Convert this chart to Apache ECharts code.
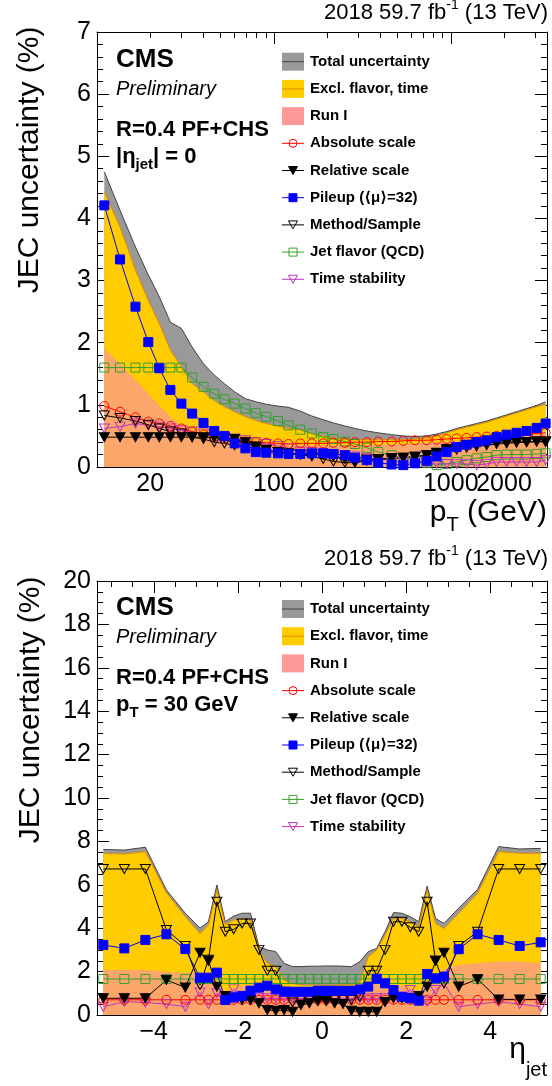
<!DOCTYPE html>
<html>
<head>
<meta charset="utf-8">
<script src="https://cdn.jsdelivr.net/npm/echarts@6/dist/echarts.min.js"></script>
<style>
  html, body { margin: 0; padding: 0; background: #fff; }
  #chart { width: 552px; height: 1086px; }
</style>
</head>
<body>
<div id="chart"></div>
<script>
// ---- top panel: uncertainty vs pT at eta = 0 ----
const ptBins = [11, 13.5, 16.5, 19.5, 22.5, 26, 30, 34.5, 40, 46, 52.5, 60, 69, 79, 90.5, 105.5, 121,
  141, 164, 190, 217, 252, 287, 335, 389, 463, 539, 628, 731, 832, 948, 1080, 1230, 1400, 1595, 1816,
  2069, 2356, 2683, 3059, 3437];
const ptTotal = [4.75, 4.13, 3.54, 3.09, 2.74, 2.33, 2.23, 1.93, 1.66, 1.48, 1.34, 1.21, 1.10, 1.05, 1.01, 0.98, 0.96,
  0.90, 0.82, 0.76, 0.71, 0.66, 0.62, 0.58, 0.55, 0.52, 0.50, 0.49, 0.50, 0.53, 0.57, 0.62, 0.66, 0.70, 0.74, 0.79,
  0.84, 0.89, 0.94, 0.99, 1.05];
const ptExcl = [4.43, 3.86, 3.17, 2.68, 2.31, 1.88, 1.61, 1.34, 1.21, 1.07, 0.97, 0.89, 0.81, 0.75, 0.70, 0.66, 0.62,
  0.60, 0.54, 0.50, 0.47, 0.45, 0.44, 0.44, 0.44, 0.44, 0.44, 0.45, 0.47, 0.50, 0.55, 0.60, 0.64, 0.68, 0.72, 0.77,
  0.82, 0.87, 0.92, 0.97, 1.01];
const ptRun1 = [1.91, 1.66, 1.40, 1.18, 0.99, 0.81, 0.66, 0.57, 0.51, 0.46, 0.43, 0.41, 0.39, 0.38, 0.37, 0.36, 0.35,
  0.35, 0.35, 0.35, 0.35, 0.35, 0.35, 0.35, 0.36, 0.36, 0.37, 0.38, 0.39, 0.40, 0.41, 0.42, 0.43, 0.44, 0.45, 0.46,
  0.47, 0.48, 0.50, 0.52, 0.54];
const ptAbsolute = [0.98, 0.89, 0.80, 0.73, 0.70, 0.66, 0.62, 0.57, 0.52, 0.48, 0.46, 0.43, 0.41, 0.40, 0.39, 0.38, 0.37,
  0.38, 0.38, 0.38, 0.39, 0.39, 0.40, 0.40, 0.41, 0.41, 0.42, 0.43, 0.43, 0.44, 0.45, 0.46, 0.47, 0.48, 0.49, 0.50,
  0.51, 0.52, 0.53, 0.54, 0.55];
const ptRelative = [0.48, 0.48, 0.48, 0.48, 0.48, 0.48, 0.48, 0.48, 0.48, 0.47, 0.47, 0.45, 0.40, 0.33, 0.28, 0.24, 0.21,
  0.20, 0.20, 0.20, 0.17, 0.13, 0.08, 0.12, 0.12, 0.14, 0.15, 0.17, 0.19, 0.23, 0.29, 0.32, 0.35, 0.36, 0.38, 0.40,
  0.40, 0.41, 0.40, 0.41, 0.40];
const ptPileup = [4.21, 3.34, 2.58, 2.01, 1.59, 1.24, 1.02, 0.86, 0.71, 0.58, 0.50, 0.38, 0.30, 0.24, 0.23, 0.22, 0.21,
  0.21, 0.22, 0.22, 0.21, 0.19, 0.15, 0.11, 0.07, 0.04, 0.03, 0.06, 0.10, 0.17, 0.24, 0.32, 0.36, 0.40, 0.43, 0.48,
  0.52, 0.55, 0.58, 0.63, 0.70];
const ptMethod = [0.83, 0.79, 0.74, 0.68, 0.62, 0.57, 0.54, 0.48, 0.45, 0.40, 0.38, 0.35, 0.33, 0.30, 0.27, 0.24, 0.22,
  0.20, 0.17, 0.13, 0.09, 0.07, 0.07, 0.10, 0.13, 0.14, 0.15, 0.16, 0.19, 0.22, 0.26, 0.28, 0.31, 0.33, 0.35, 0.37,
  0.38, 0.39, 0.40, 0.41, 0.42];
const ptFlavor = [1.60, 1.60, 1.60, 1.60, 1.60, 1.60, 1.60, 1.44, 1.29, 1.18, 1.09, 1.02, 0.94, 0.87, 0.81, 0.74, 0.67,
  0.60, 0.54, 0.48, 0.45, 0.41, 0.37, 0.31, 0.24, 0.19, 0.14, 0.11, 0.07, 0.03, 0.05, 0.08, 0.11, 0.14, 0.16, 0.19,
  0.20, 0.20, 0.20, 0.21, 0.22];
const ptTime = [0.62, 0.65, 0.70, 0.67, 0.65, 0.62, 0.59, 0.57, 0.54, 0.51, 0.48, 0.46, 0.43, 0.40, 0.37, 0.34, 0.30,
  0.25, 0.24, 0.22, 0.21, 0.19, 0.17, 0.15, 0.13, 0.11, 0.08, 0.07, 0.06, 0.05, 0.05, 0.05, 0.05, 0.03, 0.05, 0.08,
  0.08, 0.08, 0.08, 0.08, 0.11];

const ptMajorTicks = [100, 1000];
const ptMajorLabels = [100, 1000];
const ptMinorTicks = [20, 30, 40, 50, 60, 70, 80, 90, 200, 300, 400, 500, 600, 700, 800, 900, 2000, 3000];
const ptMinorLabels = [20, 200, 2000];

// ---- bottom panel: uncertainty vs eta at pT = 30 GeV ----
const etaBins = [-5.2, -4.7, -4.2, -3.7, -3.25, -2.9, -2.7, -2.5, -2.3, -2.1, -1.9, -1.7, -1.5, -1.3, -1.1, -0.9, -0.7,
  -0.5, -0.3, -0.1, 0.1, 0.3, 0.5, 0.7, 0.9, 1.1, 1.3, 1.5, 1.7, 1.9, 2.1, 2.3, 2.5, 2.7, 2.9, 3.25, 3.7, 4.2, 4.7, 5.2];
const etaTotal = [7.63, 7.60, 7.73, 5.76, 4.69, 4.00, 4.30, 5.99, 4.30, 4.56, 4.69, 4.69, 3.15, 3.00, 2.92, 2.38, 2.23,
  2.23, 2.25, 2.25, 2.26, 2.26, 2.25, 2.23, 2.46, 2.92, 3.07, 3.84, 4.72, 4.69, 4.53, 4.30, 5.94, 4.45, 4.22, 4.92,
  5.79, 7.76, 7.65, 7.68];
const etaExcl = [7.45, 7.42, 7.53, 5.64, 4.53, 3.76, 4.15, 5.76, 4.15, 4.38, 4.41, 4.38, 3.00, 2.38, 2.23, 1.61, 1.46,
  1.38, 1.38, 1.38, 1.38, 1.38, 1.40, 1.40, 1.50, 2.69, 3.00, 3.69, 4.45, 4.45, 4.30, 4.07, 5.76, 4.22, 3.99, 4.69,
  5.61, 7.53, 7.45, 7.45];
const etaRun1 = [2.07, 2.07, 2.07, 1.99, 1.94, 1.99, 1.60, 1.30, 1.10, 1.25, 1.35, 1.40, 1.45, 1.45, 1.40, 1.35, 1.30,
  1.30, 1.30, 1.30, 1.30, 1.30, 1.30, 1.30, 1.35, 1.40, 1.45, 1.45, 1.40, 1.35, 1.25, 1.10, 1.30, 1.70, 2.10, 2.30,
  2.38, 2.46, 2.46, 2.38];
const etaAbsolute = [0.70, 0.70, 0.70, 0.70, 0.70, 0.70, 0.70, 0.70, 0.70, 0.70, 0.70, 0.70, 0.70, 0.70, 0.70, 0.70,
  0.70, 0.70, 0.70, 0.70, 0.70, 0.70, 0.70, 0.70, 0.70, 0.70, 0.70, 0.70, 0.70, 0.70, 0.70, 0.70, 0.70, 0.70, 0.70,
  0.70, 0.70, 0.70, 0.70, 0.70];
const etaRelative = [0.77, 0.77, 0.77, 1.61, 1.27, 2.87, 2.50, 1.30, 0.88, 0.80, 0.69, 0.69, 0.54, 0.23, 0.20, 0.23,
  0.15, 0.46, 0.54, 0.64, 0.64, 0.54, 0.51, 0.20, 0.15, 0.15, 0.15, 0.60, 0.77, 0.77, 0.77, 0.88, 1.30, 2.50, 2.87,
  1.31, 1.65, 0.72, 0.72, 0.72];
const etaPileup = [3.23, 3.07, 3.46, 3.72, 3.04, 1.72, 1.72, 1.95, 0.69, 0.81, 0.88, 1.12, 1.26, 1.35, 1.18, 1.07, 1.07,
  1.07, 1.07, 1.12, 1.12, 1.12, 1.12, 1.12, 1.18, 1.31, 1.67, 1.46, 1.15, 0.84, 0.77, 0.66, 1.89, 1.69, 1.77, 3.03,
  3.72, 3.46, 3.18, 3.35];
const etaMethod = [6.73, 6.73, 6.73, 3.92, 3.18, 1.38, 2.55, 5.22, 3.84, 3.95, 4.22, 4.22, 3.00, 2.04, 2.04, 1.07, 0.58,
  0.69, 0.69, 0.69, 0.69, 0.69, 0.69, 0.69, 0.84, 2.04, 2.04, 3.00, 4.30, 4.30, 4.04, 3.84, 5.22, 2.50, 1.46, 3.18,
  3.84, 6.73, 6.73, 6.73];
const etaFlavor = [1.66, 1.66, 1.66, 1.66, 1.66, 1.66, 1.66, 1.66, 1.66, 1.66, 1.66, 1.66, 1.66, 1.66, 1.66, 1.66, 1.66,
  1.66, 1.66, 1.66, 1.66, 1.66, 1.66, 1.66, 1.66, 1.66, 1.66, 1.66, 1.66, 1.66, 1.66, 1.66, 1.66, 1.66, 1.66, 1.66,
  1.66, 1.66, 1.66, 1.66];
const etaTime = [0.38, 0.61, 0.58, 0.50, 0.38, 1.04, 0.50, 1.00, 0.75, 1.18, 0.84, 0.77, 0.77, 0.77, 0.77, 0.77, 0.77,
  0.77, 0.77, 0.77, 0.77, 0.77, 0.77, 0.77, 0.77, 0.77, 0.77, 0.77, 0.81, 0.84, 1.15, 0.69, 0.61, 1.15, 1.46, 0.38,
  0.50, 0.61, 0.50, 0.38];

const etaMajorTicks = [-4, -2, 0, 2, 4];
const etaMinorTicks = [-5, -4.5, -3.5, -3, -2.5, -1.5, -1, -0.5, 0.5, 1, 1.5, 2.5, 3, 3.5, 4.5, 5];

const legendNames = ['Total uncertainty', 'Excl. flavor, time', 'Run I', 'Absolute scale', 'Relative scale',
  'Pileup (\u27e8\u03bc\u27e9=32)', 'Method/Sample', 'Jet flavor (QCD)', 'Time stability'];

const FONT = '"Liberation Sans", "DejaVu Sans", Arial, sans-serif';
const C_TOTAL = '#999999', C_TOTAL_LINE = '#444444';
const C_EXCL = '#ffcc00', C_EXCL_LINE = '#e08a00';
const C_RUN1 = '#fca66c', C_RUN1_LEG = '#ff9999';

const MK = {
  absolute: { symbol: 'circle', size: 9, color: '#ff0000', filled: false },
  relative: { symbol: 'triangle', size: [10, 9], rotate: 180, color: '#000000', filled: true },
  pileup: { symbol: 'rect', size: 9, color: '#0000ff', filled: true },
  method: { symbol: 'triangle', size: [10, 9], rotate: 180, color: '#000000', filled: false },
  flavor: { symbol: 'rect', size: 9, color: '#33a02c', filled: false },
  time: { symbol: 'triangle', size: [10, 9], rotate: 180, color: '#c032c0', filled: false }
};

const zip = (xs, ys) => xs.map((x, i) => [x, ys[i]]);

function band(name, xs, ys, fill, edge, xi, yi) {
  return {
    name, type: 'line', xAxisIndex: xi, yAxisIndex: yi, data: zip(xs, ys),
    symbol: 'none', silent: true,
    lineStyle: edge ? { color: edge, width: 1 } : { width: 0, opacity: 0 },
    areaStyle: { color: fill, opacity: 1 }
  };
}

function marks(name, xs, ys, m, xi, yi) {
  return {
    name, type: 'line', xAxisIndex: xi, yAxisIndex: yi, data: zip(xs, ys),
    symbol: m.symbol, symbolSize: m.size, symbolRotate: m.rotate || 0, showAllSymbol: true, silent: true,
    lineStyle: { color: m.color, width: 1 },
    itemStyle: { color: m.filled ? m.color : 'rgba(0,0,0,0)', borderColor: m.color, borderWidth: 1 }
  };
}

function panelSeries(xs, d, xi, yi) {
  return [
    band('Total uncertainty', xs, d.total, C_TOTAL, C_TOTAL_LINE, xi, yi),
    band('Excl. flavor, time', xs, d.excl, C_EXCL, C_EXCL_LINE, xi, yi),
    band('Run I', xs, d.run1, C_RUN1, null, xi, yi),
    marks('Jet flavor (QCD)', xs, d.flavor, MK.flavor, xi, yi),
    marks('Time stability', xs, d.time, MK.time, xi, yi),
    marks('Absolute scale', xs, d.absolute, MK.absolute, xi, yi),
    marks('Relative scale', xs, d.relative, MK.relative, xi, yi),
    marks('Method/Sample', xs, d.method, MK.method, xi, yi),
    marks('Pileup', xs, d.pileup, MK.pileup, xi, yi)
  ];
}

const black = { color: '#000', width: 1 };
function xAx(grid, type, min, max, pos, ticks, len, labels, line) {
  return {
    gridIndex: grid, type, min, max, position: pos,
    axisLine: { show: line, onZero: false, lineStyle: black },
    axisTick: { show: true, inside: true, length: len, customValues: ticks, lineStyle: black },
    axisLabel: labels ? {
      show: true, customValues: labels, hideOverlap: false, fontSize: 25, color: '#000', fontFamily: FONT, margin: 5,
      formatter: v => String(v).replace('-', '\u2212')
    } : { show: false },
    splitLine: { show: false }, minorTick: { show: false }
  };
}
function yAx(grid, max, interval, minorSplit, pos, labels) {
  return {
    gridIndex: grid, type: 'value', min: 0, max, interval, position: pos,
    axisLine: { show: true, onZero: false, lineStyle: black },
    axisTick: { show: true, inside: true, length: 12, lineStyle: black },
    minorTick: { show: true, splitNumber: minorSplit, length: 6, lineStyle: black },
    axisLabel: labels ? { show: true, fontSize: 25, color: '#000', fontFamily: FONT, margin: 6 } : { show: false },
    splitLine: { show: false }
  };
}

// text helpers (sub/superscripts placed by measuring the runs)
const mctx = document.createElement('canvas').getContext('2d');
function run(parts, x, y, anchor) {
  const w = parts.map(p => { mctx.font = p.font; return mctx.measureText(p.t).width; });
  const total = w.reduce((a, b) => a + b, 0);
  let cx = anchor === 'right' ? x - total : x;
  return parts.map((p, i) => {
    const el = {
      type: 'text', x: cx, y: y + (p.dy || 0), silent: true,
      style: { text: p.t, font: p.font, fill: '#000', align: 'left', verticalAlign: 'middle' }
    };
    cx += w[i];
    return el;
  });
}
const f = (size, w) => (w || '') + ' ' + size + 'px ' + FONT;

function legend(y0) {
  const els = [];
  const step = 27.2, x0 = 282, x1 = 304, xc = 293, xt = 310;
  const kinds = ['total', 'excl', 'run1', 'absolute', 'relative', 'pileup', 'method', 'flavor', 'time'];
  kinds.forEach((k, i) => {
    const y = y0 + i * step;
    if (k === 'total' || k === 'excl' || k === 'run1') {
      const fill = k === 'total' ? C_TOTAL : k === 'excl' ? C_EXCL : C_RUN1_LEG;
      els.push({ type: 'rect', silent: true, shape: { x: x0, y: y - 9, width: x1 - x0, height: 18 }, style: { fill } });
      if (k !== 'run1') {
        els.push({ type: 'line', silent: true, shape: { x1: x0, y1: y, x2: x1, y2: y },
          style: { stroke: k === 'total' ? C_TOTAL_LINE : C_EXCL_LINE, lineWidth: 1 } });
      }
    } else {
      const m = MK[k];
      els.push({ type: 'line', silent: true, shape: { x1: x0, y1: y, x2: x1, y2: y }, style: { stroke: m.color, lineWidth: 1 } });
      const st = { fill: m.filled ? m.color : 'none', stroke: m.color, lineWidth: 1 };
      if (m.symbol === 'circle') els.push({ type: 'circle', silent: true, shape: { cx: xc, cy: y, r: 4 }, style: st });
      else if (m.symbol === 'rect') els.push({ type: 'rect', silent: true, shape: { x: xc - 4, y: y - 4, width: 8, height: 8 }, style: st });
      else els.push({ type: 'polygon', silent: true, shape: { points: [[xc - 4.5, y - 4], [xc + 4.5, y - 4], [xc, y + 4]] }, style: st });
    }
    els.push({ type: 'text', x: xt, y, silent: true,
      style: { text: legendNames[i], font: f(15, 'bold'), fill: '#000', align: 'left', verticalAlign: 'middle' } });
  });
  return els;
}

function header(y) {
  return run([{ t: '2018 59.7 fb', font: f(22) }, { t: '-1', font: f(14), dy: -8 }, { t: ' (13 TeV)', font: f(22) }], 548, y, 'right');
}

const graphics = [].concat(
  header(13), header(559),
  [{ type: 'text', x: 30, y: 160, rotation: Math.PI / 2, silent: true,
     style: { text: 'JEC uncertainty (%)', font: f(30), fill: '#000', align: 'center', verticalAlign: 'middle' } },
   { type: 'text', x: 31, y: 710, rotation: Math.PI / 2, silent: true,
     style: { text: 'JEC uncertainty (%)', font: f(30), fill: '#000', align: 'center', verticalAlign: 'middle' } }],
  run([{ t: 'p', font: f(30) }, { t: 'T', font: f(20), dy: 12 }, { t: ' (GeV)', font: f(30) }], 547, 513, 'right'),
  run([{ t: '\u03b7', font: f(30) }, { t: 'jet', font: f(20), dy: 20 }], 547, 1050, 'right'),
  run([{ t: 'CMS', font: f(26, 'bold') }], 116, 60),
  run([{ t: 'Preliminary', font: f(20, 'italic') }], 116, 89),
  run([{ t: 'R=0.4 PF+CHS', font: f(22, 'bold') }], 116, 130),
  run([{ t: '|\u03b7', font: f(22, 'bold') }, { t: 'jet', font: f(15, 'bold'), dy: 8 }, { t: '| = 0', font: f(22, 'bold') }], 116, 157),
  run([{ t: 'CMS', font: f(26, 'bold') }], 116, 608),
  run([{ t: 'Preliminary', font: f(20, 'italic') }], 116, 637),
  run([{ t: 'R=0.4 PF+CHS', font: f(22, 'bold') }], 116, 678),
  run([{ t: 'p', font: f(22, 'bold') }, { t: 'T', font: f(15, 'bold'), dy: 8 }, { t: ' = 30 GeV', font: f(22, 'bold') }], 116, 705),
  legend(61.7), legend(609)
);

const chart = echarts.init(document.getElementById('chart'), null, { renderer: 'canvas' });
chart.setOption({
  animation: false,
  backgroundColor: '#fff',
  textStyle: { fontFamily: FONT },
  grid: [
    { left: 97, top: 32, width: 450, height: 435, outerBoundsMode: 'none' },
    { left: 97, top: 581, width: 450, height: 434, outerBoundsMode: 'none' }
  ],
  xAxis: [
    xAx(0, 'log', 10, 3500, 'bottom', ptMajorTicks, 12, ptMajorLabels, true),
    xAx(0, 'log', 10, 3500, 'bottom', ptMinorTicks, 6, ptMinorLabels, false),
    xAx(0, 'log', 10, 3500, 'top', ptMajorTicks, 12, null, true),
    xAx(0, 'log', 10, 3500, 'top', ptMinorTicks, 6, null, false),
    xAx(1, 'value', -5.35, 5.35, 'bottom', etaMajorTicks, 12, etaMajorTicks, true),
    xAx(1, 'value', -5.35, 5.35, 'bottom', etaMinorTicks, 6, null, false),
    xAx(1, 'value', -5.35, 5.35, 'top', etaMajorTicks, 12, null, true),
    xAx(1, 'value', -5.35, 5.35, 'top', etaMinorTicks, 6, null, false)
  ],
  yAxis: [
    yAx(0, 7, 1, 5, 'left', true),
    yAx(0, 7, 1, 5, 'right', false),
    yAx(1, 20, 2, 4, 'left', true),
    yAx(1, 20, 2, 4, 'right', false)
  ],
  series: [].concat(
    panelSeries(ptBins, { total: ptTotal, excl: ptExcl, run1: ptRun1, absolute: ptAbsolute, relative: ptRelative,
      pileup: ptPileup, method: ptMethod, flavor: ptFlavor, time: ptTime }, 0, 0),
    panelSeries(etaBins, { total: etaTotal, excl: etaExcl, run1: etaRun1, absolute: etaAbsolute, relative: etaRelative,
      pileup: etaPileup, method: etaMethod, flavor: etaFlavor, time: etaTime }, 4, 2)
  ),
  graphic: graphics
});
</script>
</body>
</html>
